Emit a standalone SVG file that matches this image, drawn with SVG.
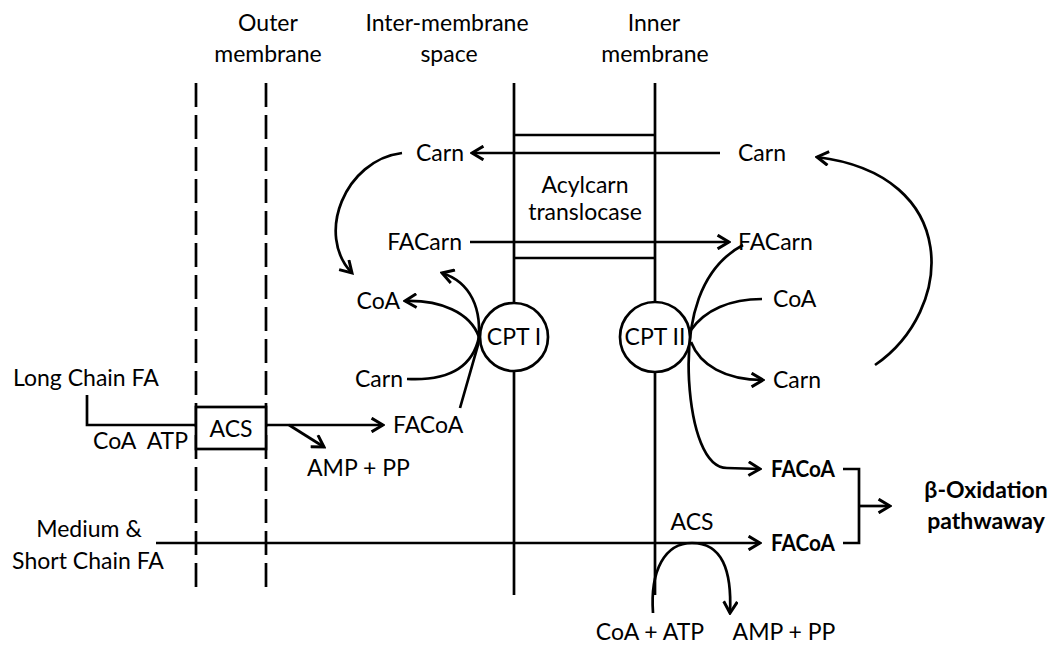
<svg xmlns="http://www.w3.org/2000/svg" width="1062" height="648" viewBox="0 0 1062 648">
<defs>
<marker id="ah" markerUnits="userSpaceOnUse" markerWidth="16" markerHeight="16" viewBox="0 0 12 14" refX="11" refY="7" orient="auto">
<path d="M1,1 L11,7 L1,13" fill="none" stroke="#000" stroke-width="2.6"/>
</marker>
</defs>
<style>
text{font-family:Lato,"Open Sans","Liberation Sans",sans-serif;font-size:23px;fill:#000}
.b{font-weight:bold}
.m{text-anchor:middle}
.e{text-anchor:end}
.ln{stroke:#000;stroke-width:2.7;fill:none}
.dash{stroke:#000;stroke-width:2.7;stroke-dasharray:24 8;fill:none}
.arr{marker-end:url(#ah)}
</style>
<rect width="1062" height="648" fill="#fff"/>
<g id="headers">
<text class="m" x="268" y="31">Outer</text>
<text class="m" x="268" y="62">membrane</text>
<text class="m" x="447" y="31">Inter-membrane</text>
<text class="m" x="449" y="62">space</text>
<text class="m" x="654" y="31">Inner</text>
<text class="m" x="655" y="62">membrane</text>
</g>
<g id="membranes">
<line class="dash" x1="196" y1="83" x2="196" y2="590"/>
<line class="dash" x1="266" y1="83" x2="266" y2="590"/>
<line class="ln" x1="514" y1="83" x2="514" y2="595"/>
<line class="ln" x1="655" y1="83" x2="655" y2="595"/>
</g>
<g id="translocase">
<line class="ln" x1="514" y1="135" x2="655" y2="135"/>
<line class="ln" x1="514" y1="258" x2="655" y2="258"/>
<text class="m" x="585" y="193">Acylcarn</text>
<text class="m" x="585" y="220">translocase</text>
</g>
<g id="connectors">
<line class="ln arr" x1="720" y1="153" x2="472" y2="153"/>
<line class="ln arr" x1="470" y1="242" x2="729" y2="242"/>
<path class="ln arr" d="M402,153 C345,160 315,235 352,273"/>
<path class="ln arr" d="M479,337 C470,312 440,300 405,301"/>
<path class="ln" d="M407,379 C445,381 472,370 479,337"/>
<path class="ln arr" d="M460,408 L478,345 C483,308 470,282 442,273"/>
<path class="ln" d="M87,395 L87,425 L196,425"/>
<line class="ln arr" x1="266" y1="425" x2="383" y2="425"/>
<line class="ln arr" x1="289" y1="425" x2="324" y2="447"/>
<line class="ln arr" x1="156" y1="543" x2="760" y2="543"/>
<path class="ln arr" d="M653,613 C650,570 665,543 692,543 C722,543 732,570 730,613"/>
<path class="ln" d="M762,299 C730,299 705,310 691,330"/>
<path class="ln arr" d="M691,342 C700,365 725,380 763,380"/>
<path class="ln arr" d="M743,245 C700,268 686,320 689,380 C692,430 705,468 727,468 L760,469"/>
<path class="ln arr" d="M875,365 C955,310 962,175 817,157"/>
<path class="ln" d="M843,469 L859,469 L859,543 L843,543"/>
<line class="ln arr" x1="859" y1="506" x2="890" y2="506"/>
</g>
<g id="cpt1">
<circle cx="514" cy="337" r="34" fill="#fff" stroke="#000" stroke-width="2.7"/>
<text class="m" x="514" y="345">CPT I</text>
</g>
<g id="cpt2">
<circle cx="655" cy="337" r="35" fill="#fff" stroke="#000" stroke-width="2.7"/>
<text class="m" x="655" y="345">CPT II</text>
</g>
<g id="acs1">
<rect x="196" y="407" width="70" height="42" fill="#fff" stroke="#000" stroke-width="2.7"/>
<text class="m" x="231" y="437">ACS</text>
</g>
<g id="labels">
<text x="416" y="161">Carn</text>
<text x="738" y="161">Carn</text>
<text class="e" x="462" y="250">FACarn</text>
<text x="738" y="250">FACarn</text>
<text class="e" x="400" y="309">CoA</text>
<text class="e" x="403" y="387">Carn</text>
<text x="773" y="307">CoA</text>
<text x="773" y="388">Carn</text>
<text x="13" y="386">Long Chain FA</text>
<text x="93" y="449" xml:space="preserve">CoA  ATP</text>
<text x="393" y="433">FACoA</text>
<text x="307" y="476">AMP + PP</text>
<text class="m" x="89" y="537">Medium &amp;</text>
<text class="m" x="88" y="569">Short Chain FA</text>
<text class="b" x="771" y="477" textLength="64" lengthAdjust="spacingAndGlyphs">FACoA</text>
<text class="b" x="771" y="551" textLength="64" lengthAdjust="spacingAndGlyphs">FACoA</text>
<text class="m" x="692" y="530">ACS</text>
<text class="m" x="650" y="640">CoA + ATP</text>
<text class="m" x="784" y="640">AMP + PP</text>
<text class="b m" x="986" y="498">β-Oxidation</text>
<text class="b m" x="986" y="529">pathwaway</text>
</g>
</svg>
